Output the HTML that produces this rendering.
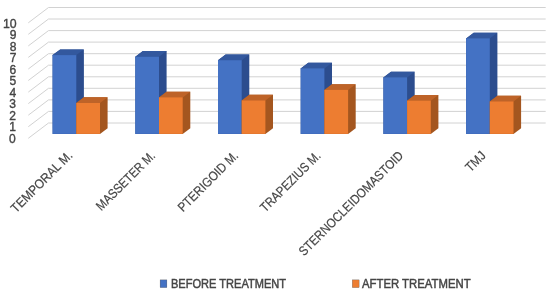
<!DOCTYPE html>
<html lang="en"><head><meta charset="utf-8"><title>Chart</title>
<style>html,body{margin:0;padding:0;background:#fff;}body{width:550px;height:294px;overflow:hidden;font-family:"Liberation Sans",sans-serif;}svg{display:block;}</style>
</head><body>
<svg width="550" height="294" viewBox="0 0 550 294">
<rect width="550" height="294" fill="#fff"/>
<g fill="none" stroke="#d2d2d2" stroke-width="1">
<polyline points="28.3,22.8 48.5,7.5 545.7,7.5"/>
<polyline points="28.3,34.3 48.5,19.0 545.7,19.0"/>
<polyline points="28.3,45.9 48.5,30.6 545.7,30.6"/>
<polyline points="28.3,57.4 48.5,42.1 545.7,42.1"/>
<polyline points="28.3,69.0 48.5,53.7 545.7,53.7"/>
<polyline points="28.3,80.5 48.5,65.2 545.7,65.2"/>
<polyline points="28.3,92.1 48.5,76.8 545.7,76.8"/>
<polyline points="28.3,103.6 48.5,88.3 545.7,88.3"/>
<polyline points="28.3,115.2 48.5,99.9 545.7,99.9"/>
<polyline points="28.3,126.7 48.5,111.4 545.7,111.4"/>
<polyline points="28.3,138.3 48.5,123.0 545.7,123.0"/>
</g>
<polygon points="52.6,55.1 60.2,49.4 83.9,49.4 83.9,128.2 76.3,133.9 52.6,133.9" fill="#2c4d8e"/><polygon points="52.6,55.1 60.2,49.4 83.9,49.4 76.3,55.1 76.3,55.7 52.6,55.7" fill="#33589e"/><rect x="52.6" y="55.1" width="23.7" height="78.8" fill="#4472c4"/>
<polygon points="76.3,103.0 83.9,97.3 107.6,97.3 107.6,128.2 100.0,133.9 76.3,133.9" fill="#a4561f"/><polygon points="76.3,103.0 83.9,97.3 107.6,97.3 100.0,103.0 100.0,103.6 76.3,103.6" fill="#be6328"/><rect x="76.3" y="103.0" width="23.7" height="30.9" fill="#ed7d31"/>
<polygon points="135.3,56.8 142.9,51.1 166.6,51.1 166.6,128.2 159.0,133.9 135.3,133.9" fill="#2c4d8e"/><polygon points="135.3,56.8 142.9,51.1 166.6,51.1 159.0,56.8 159.0,57.4 135.3,57.4" fill="#33589e"/><rect x="135.3" y="56.8" width="23.7" height="77.1" fill="#4472c4"/>
<polygon points="159.0,97.4 166.6,91.7 190.3,91.7 190.3,128.2 182.7,133.9 159.0,133.9" fill="#a4561f"/><polygon points="159.0,97.4 166.6,91.7 190.3,91.7 182.7,97.4 182.7,98.0 159.0,98.0" fill="#be6328"/><rect x="159.0" y="97.4" width="23.7" height="36.5" fill="#ed7d31"/>
<polygon points="218.0,60.2 225.6,54.5 249.3,54.5 249.3,128.2 241.7,133.9 218.0,133.9" fill="#2c4d8e"/><polygon points="218.0,60.2 225.6,54.5 249.3,54.5 241.7,60.2 241.7,60.8 218.0,60.8" fill="#33589e"/><rect x="218.0" y="60.2" width="23.7" height="73.7" fill="#4472c4"/>
<polygon points="241.7,100.5 249.3,94.8 273.0,94.8 273.0,128.2 265.4,133.9 241.7,133.9" fill="#a4561f"/><polygon points="241.7,100.5 249.3,94.8 273.0,94.8 265.4,100.5 265.4,101.1 241.7,101.1" fill="#be6328"/><rect x="241.7" y="100.5" width="23.7" height="33.4" fill="#ed7d31"/>
<polygon points="300.7,68.4 308.3,62.7 332.0,62.7 332.0,128.2 324.4,133.9 300.7,133.9" fill="#2c4d8e"/><polygon points="300.7,68.4 308.3,62.7 332.0,62.7 324.4,68.4 324.4,69.0 300.7,69.0" fill="#33589e"/><rect x="300.7" y="68.4" width="23.7" height="65.5" fill="#4472c4"/>
<polygon points="324.4,89.9 332.0,84.2 355.7,84.2 355.7,128.2 348.1,133.9 324.4,133.9" fill="#a4561f"/><polygon points="324.4,89.9 332.0,84.2 355.7,84.2 348.1,89.9 348.1,90.5 324.4,90.5" fill="#be6328"/><rect x="324.4" y="89.9" width="23.7" height="44.0" fill="#ed7d31"/>
<polygon points="383.4,77.4 391.0,71.7 414.7,71.7 414.7,128.2 407.1,133.9 383.4,133.9" fill="#2c4d8e"/><polygon points="383.4,77.4 391.0,71.7 414.7,71.7 407.1,77.4 407.1,78.0 383.4,78.0" fill="#33589e"/><rect x="383.4" y="77.4" width="23.7" height="56.5" fill="#4472c4"/>
<polygon points="407.1,100.7 414.7,95.0 438.4,95.0 438.4,128.2 430.8,133.9 407.1,133.9" fill="#a4561f"/><polygon points="407.1,100.7 414.7,95.0 438.4,95.0 430.8,100.7 430.8,101.3 407.1,101.3" fill="#be6328"/><rect x="407.1" y="100.7" width="23.7" height="33.2" fill="#ed7d31"/>
<polygon points="466.1,38.4 473.7,32.7 497.4,32.7 497.4,128.2 489.8,133.9 466.1,133.9" fill="#2c4d8e"/><polygon points="466.1,38.4 473.7,32.7 497.4,32.7 489.8,38.4 489.8,39.0 466.1,39.0" fill="#33589e"/><rect x="466.1" y="38.4" width="23.7" height="95.5" fill="#4472c4"/>
<polygon points="489.8,101.5 497.4,95.8 521.1,95.8 521.1,128.2 513.5,133.9 489.8,133.9" fill="#a4561f"/><polygon points="489.8,101.5 497.4,95.8 521.1,95.8 513.5,101.5 513.5,102.1 489.8,102.1" fill="#be6328"/><rect x="489.8" y="101.5" width="23.7" height="32.4" fill="#ed7d31"/>
<g font-family="Liberation Sans, sans-serif" font-size="13.0" fill="#454545" stroke="#454545" stroke-width="0.3">
<text x="16.60" y="27.90" font-size="13.5" stroke-width="0.4" text-anchor="end" textLength="13.7" lengthAdjust="spacingAndGlyphs">10</text>
<text x="16.52" y="39.36" font-size="13.5" stroke-width="0.4" text-anchor="end" textLength="6.7" lengthAdjust="spacingAndGlyphs">9</text>
<text x="16.44" y="50.82" font-size="13.5" stroke-width="0.4" text-anchor="end" textLength="6.7" lengthAdjust="spacingAndGlyphs">8</text>
<text x="16.36" y="62.28" font-size="13.5" stroke-width="0.4" text-anchor="end" textLength="6.7" lengthAdjust="spacingAndGlyphs">7</text>
<text x="16.28" y="73.74" font-size="13.5" stroke-width="0.4" text-anchor="end" textLength="6.7" lengthAdjust="spacingAndGlyphs">6</text>
<text x="16.20" y="85.20" font-size="13.5" stroke-width="0.4" text-anchor="end" textLength="6.7" lengthAdjust="spacingAndGlyphs">5</text>
<text x="16.12" y="96.66" font-size="13.5" stroke-width="0.4" text-anchor="end" textLength="6.7" lengthAdjust="spacingAndGlyphs">4</text>
<text x="16.04" y="108.12" font-size="13.5" stroke-width="0.4" text-anchor="end" textLength="6.7" lengthAdjust="spacingAndGlyphs">3</text>
<text x="15.96" y="119.58" font-size="13.5" stroke-width="0.4" text-anchor="end" textLength="6.7" lengthAdjust="spacingAndGlyphs">2</text>
<text x="15.88" y="131.04" font-size="13.5" stroke-width="0.4" text-anchor="end" textLength="6.7" lengthAdjust="spacingAndGlyphs">1</text>
<text x="15.80" y="142.50" font-size="13.5" stroke-width="0.4" text-anchor="end" textLength="6.7" lengthAdjust="spacingAndGlyphs">0</text>
<text transform="translate(73.3,156.1) rotate(-45)" x="0" y="0" stroke-width="0.2" text-anchor="end" textLength="81" lengthAdjust="spacingAndGlyphs">TEMPORAL M.</text>
<text transform="translate(156,156.5) rotate(-45)" x="0" y="0" stroke-width="0.2" text-anchor="end" textLength="77.3" lengthAdjust="spacingAndGlyphs">MASSETER M.</text>
<text transform="translate(239,156.5) rotate(-45)" x="0" y="0" stroke-width="0.2" text-anchor="end" textLength="79.3" lengthAdjust="spacingAndGlyphs">PTERIGOID M.</text>
<text transform="translate(321.5,156.5) rotate(-45)" x="0" y="0" stroke-width="0.2" text-anchor="end" textLength="79.5" lengthAdjust="spacingAndGlyphs">TRAPEZIUS M.</text>
<text transform="translate(404,156.5) rotate(-45)" x="0" y="0" stroke-width="0.2" text-anchor="end" textLength="141.5" lengthAdjust="spacingAndGlyphs">STERNOCLEIDOMASTOID</text>
<text transform="translate(486.5,156.5) rotate(-45)" x="0" y="0" stroke-width="0.2" text-anchor="end" textLength="22.5" lengthAdjust="spacingAndGlyphs">TMJ</text>
<rect x="160.1" y="279.9" width="6.8" height="7.7" fill="#4472c4"/>
<text x="171.0" y="287.5" font-size="13.5" stroke-width="0.5" textLength="115" lengthAdjust="spacingAndGlyphs">BEFORE TREATMENT</text>
<rect x="352.3" y="279.9" width="6.8" height="7.7" fill="#ed7d31"/>
<text x="362.0" y="287.5" font-size="13.5" stroke-width="0.5" textLength="108.6" lengthAdjust="spacingAndGlyphs">AFTER TREATMENT</text>
</g>
</svg>
</body></html>
